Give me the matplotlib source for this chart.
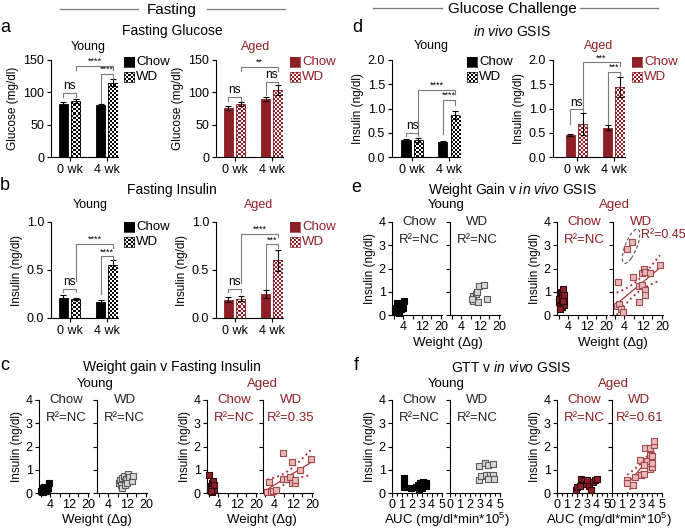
import numpy as np
import matplotlib
matplotlib.use('Agg')
import matplotlib.pyplot as plt
from matplotlib.patches import Ellipse
from matplotlib.colors import to_rgb

plt.rcParams['font.family'] = ['Liberation Sans', 'DejaVu Sans']
plt.rcParams['mathtext.fontset'] = 'custom'
plt.rcParams['mathtext.rm'] = 'Liberation Sans'
plt.rcParams['mathtext.it'] = 'Liberation Sans:italic'
plt.rcParams['axes.linewidth'] = 0.8

# ---------------- data ----------------
groups = ['0 wk', '4 wk']
pos = [0, 1, 3, 4]          # chow 0wk, WD 0wk, chow 4wk, WD 4wk

gluc_young = [82, 86.5, 80.5, 115]
gluc_young_err = [3, 3, 2, 5]
gluc_aged = [75.5, 82, 89.5, 104]
gluc_aged_err = [3, 3, 3.5, 7.5]

fins_young = [0.21, 0.195, 0.167, 0.556]
fins_young_err = [0.03, 0.01, 0.02, 0.045]
fins_aged = [0.19, 0.20, 0.247, 0.60]
fins_aged_err = [0.025, 0.025, 0.04, 0.11]

gsis_young = [0.35, 0.35, 0.30, 0.86]
gsis_young_err = [0.03, 0.05, 0.02, 0.08]
gsis_aged = [0.46, 0.68, 0.60, 1.445]
gsis_aged_err = [0.02, 0.23, 0.05, 0.2]

# brackets: (x1, x2, y_top, y_left_leg, y_right_leg, label)
br_gluc_young = [(0, 1, 98.6, 93, 93, 'ns'), (3, 4, 128, 84, 120, '****'), (1, 4, 141, 134.5, 134.5, '****')]
br_gluc_aged = [(0, 1, 92.4, 87.3, 87.3, 'ns'), (3, 4, 115.6, 96, 112.5, 'ns'), (1, 4, 139.7, 133, 133, '**')]
br_fins_young = [(0, 1, 0.306, 0.271, 0.271, 'ns'), (3, 4, 0.642, 0.25, 0.60, '****'), (1, 4, 0.774, 0.39, 0.73, '****')]
br_fins_aged = [(0, 1, 0.306, 0.271, 0.271, 'ns'), (3, 4, 0.767, 0.30, 0.733, '***'), (1, 4, 0.878, 0.36, 0.84, '****')]
br_gsis_young = [(0, 1, 0.498, 0.43, 0.43, 'ns'), (3, 4, 1.18, 0.48, 1.07, '****'), (1, 4, 1.39, 0.50, 1.305, '****')]
br_gsis_aged = [(0, 1, 0.98, 0.69, 0.93, 'ns'), (3, 4, 1.75, 0.69, 1.68, '***'), (1, 4, 1.95, 1.0, 1.88, '***')]

# weight gain (g) vs fasting insulin (ng/dl)
c_yc_x = [0.2, 0.5, 0.8, 1.0, 1.2, 1.5, 1.8, 2.0, 2.2, 2.5, 3.0, 3.4, 0.4, 1.3]
c_yc_y = [0.10, 0.15, 0.05, 0.20, 0.10, 0.25, 0.15, 0.20, 0.10, 0.15, 0.20, 0.42, 0.05, 0.12]
c_yw_x = [8.5, 9.0, 9.5, 10.0, 10.0, 10.5, 11.0, 11.0, 11.5, 12.0, 12.5, 13.0, 14.0, 14.5]
c_yw_y = [0.45, 0.55, 0.35, 0.65, 0.20, 0.75, 0.50, 0.35, 0.60, 0.45, 0.80, 0.70, 0.50, 0.75]
c_ac_x = [0.0, 0.5, 0.8, 1.2, 1.5, 1.8, 2.0, 2.2, 1.0]
c_ac_y = [0.78, 0.25, 0.30, 0.05, 0.45, 0.50, 0.15, 0.35, 0.10]
c_aw_x = [1.0, 1.6, 2.5, 3.6, 4.9, 7.7, 7.7, 9.6, 10.6, 11.7, 11.6, 12.7, 12.7, 14.8, 19.5]
c_aw_y = [0.05, 0.47, 0.05, 0.07, 0.14, 1.70, 0.61, 0.61, 0.68, 1.35, 0.43, 0.42, 0.57, 0.99, 1.48]

# weight gain (g) vs in vivo GSIS insulin
e_yc_x = [0.3, 0.8, 1.0, 1.3, 1.5, 1.8, 2.0, 2.3, 2.5, 3.0, 3.2, 3.5, 4.2, 4.0, 1.2]
e_yc_y = [0.25, 0.30, 0.15, 0.40, 0.20, 0.35, 0.10, 0.30, 0.45, 0.25, 0.40, 0.30, 0.60, 0.30, 0.50]
e_yw_x = [8.9, 10.3, 10.9, 9.1, 11.3, 11.7, 13.7, 14.8, 8.4]
e_yw_y = [0.83, 0.90, 1.01, 0.62, 0.55, 1.24, 1.28, 0.69, 0.69]
e_ac_x = [0.0, 0.3, 0.5, 0.8, 1.0, 1.2, 1.5, 1.8, 2.0, 2.2, 0.2, 0.6, 1.4, 1.7, 2.3]
e_ac_y = [0.55, 0.80, 0.45, 1.00, 0.65, 0.35, 0.95, 1.10, 0.55, 0.45, 0.70, 0.25, 0.75, 0.60, 0.85]
e_aw_x = [1.2, 0.75, 1.75, 2.6, 3.6, 7.9, 10.4, 10.4, 11.7, 11.5, 12.5, 12.8, 12.8, 12.8, 15.0, 19.2]
e_aw_y = [1.43, 0.40, 0.48, 0.25, 0.14, 1.62, 1.26, 0.58, 1.30, 1.80, 1.98, 1.84, 1.09, 0.87, 1.81, 2.14]
e_out_x = [5.0, 7.4]   # circled outliers, not in the fit
e_out_y = [2.86, 3.12]

# GTT AUC vs in vivo GSIS insulin
f_yc_x = [1.2, 1.2, 1.2, 1.87, 2.47, 2.63, 2.8, 2.97, 3.13, 3.3, 3.47, 2.73, 3.07, 3.4, 2.9]
f_yc_y = [0.66, 0.44, 0.25, 0.23, 0.27, 0.34, 0.41, 0.44, 0.48, 0.41, 0.44, 0.16, 0.20, 0.30, 0.30]
f_yw_x = [2.9, 2.9, 3.1, 3.57, 3.83, 4.33, 3.67, 4.0, 4.33, 3.83, 4.4]
f_yw_y = [1.16, 0.55, 0.71, 1.30, 1.20, 1.26, 0.79, 0.79, 0.79, 0.62, 0.62]
f_ac_x = [1.9, 2.03, 2.3, 2.47, 2.73, 2.9, 3.07, 3.23, 3.4, 3.63, 3.87, 4.07]
f_ac_y = [0.14, 0.27, 0.32, 0.62, 0.55, 0.38, 0.55, 0.32, 0.11, 0.48, 0.55, 0.62]
f_aw_x = [1.53, 1.53, 2.13, 2.3, 2.8, 2.93, 3.2, 3.3, 3.53, 3.8, 3.8, 3.87, 4.03, 4.03, 4.2, 4.27, 4.03, 3.2]
f_aw_y = [0.55, 0.44, 0.34, 0.68, 1.44, 0.78, 0.82, 1.92, 1.37, 1.92, 1.03, 1.64, 1.10, 1.58, 2.05, 2.22, 1.30, 1.20]

# ---------------- style ----------------
W, H = 685, 528
RED = '#8e1f25'
LINE = '#b0373b'
GRAY = '#7a7a7a'

fig = plt.figure(figsize=(6.85, 5.28), dpi=100)


def box(l, t, w, h):
    return fig.add_axes([l / W, 1 - (t + h) / H, w / W, h / H])


def ftext(x, y, s, **kw):
    fig.text(x / W, 1 - y / H, s, ha=kw.pop('ha', 'center'), va=kw.pop('va', 'center'), **kw)


def checker(color, nx, ny):
    c = np.array(to_rgb(color))
    m = (np.add.outer(np.arange(ny), np.arange(nx)) % 2)[..., None]
    return m * c + (1 - m) * np.ones(3)


def bar_panel(l, t, w, h, vals, errs, ymax, yticks, ylabel, color, brackets, xleft):
    ax = box(l, t, w, h)
    bars = ax.bar(pos, vals, width=0.75, color=[color, 'none', color, 'none'],
                  edgecolor=color, linewidth=0.6, zorder=2)
    img = checker(color, int(w / 2), int(h / 2))
    for i in (1, 3):
        im = ax.imshow(img, extent=(xleft, 4.4, 0, ymax), aspect='auto',
                       interpolation='nearest', zorder=1.5)
        im.set_clip_path(bars[i])
    ax.errorbar(pos, vals, yerr=errs, fmt='none', ecolor='black', elinewidth=0.8,
                capsize=2.2, capthick=0.8, zorder=3)
    ax.set_xlim(xleft, 4.4)
    ax.set_ylim(0, ymax)
    ax.set_yticks(yticks)
    ax.set_xticks([0.5, 3.5])
    ax.set_xticklabels(groups)
    ax.spines[['top', 'right']].set_visible(False)
    ax.tick_params(labelsize=9, length=3, width=0.8, pad=2)
    ax.set_ylabel(ylabel, fontsize=8.5, labelpad=3)
    for x1, x2, yt, yl, yr, s in brackets:
        ax.plot([x1, x1, x2, x2], [yl, yt, yt, yr], color=GRAY, lw=0.8, clip_on=False, zorder=4)
        star = '*' in s
        ax.text((x1 + x2) / 2, yt + ymax * (0.0 if star else 0.01), s, ha='center', va='bottom',
                fontsize=6.5 if star else 8.5, clip_on=False)
    return ax


def legend(l, t, color, tcolor):
    for i, (lab, chk) in enumerate([('Chow', False), ('WD', True)]):
        ax = box(l, t + 15 * i, 10, 10)
        if chk:
            ax.imshow(checker(color, 5, 5), extent=(0, 1, 0, 1), aspect='auto', interpolation='nearest')
        else:
            ax.imshow(np.ones((1, 1, 3)) * np.array(to_rgb(color)), extent=(0, 1, 0, 1), aspect='auto')
        ax.set_xticks([])
        ax.set_yticks([])
        for sp in ax.spines.values():
            sp.set_linewidth(0.5)
            sp.set_color(color)
        ftext(l + 12, t + 5 + 15 * i, lab, ha='left', fontsize=9.5, color=tcolor)


def fit_lines(ax, x, y):
    x = np.asarray(x, float)
    y = np.asarray(y, float)
    b, a = np.polyfit(x, y, 1)
    xs = np.linspace(x.min(), x.max(), 60)
    n = len(x)
    s = np.sqrt(((y - (a + b * x)) ** 2).sum() / (n - 2))
    se = s * np.sqrt(1 / n + (xs - x.mean()) ** 2 / ((x - x.mean()) ** 2).sum())
    yf = a + b * xs
    ax.plot(xs, yf, color=LINE, lw=0.9, zorder=1)
    ax.plot(xs, yf + 2.13 * se, ':', color=LINE, lw=1.4, zorder=1)
    ax.plot(xs, yf - 2.13 * se, ':', color=LINE, lw=1.4, zorder=1)


def scat(l, t, x, y, face, edge, kind, first, label, r2, tcolor, fit=False):
    ax = box(l, t, 50, 93)
    ax.scatter(x, y, marker='s', s=20, facecolor=face, edgecolor=edge, linewidths=0.8,
               zorder=3, clip_on=False)
    if fit:
        fit_lines(ax, x, y)
    ax.set_ylim(0, 4)
    ax.set_yticks([0, 1, 2, 3, 4])
    if kind == 'w':
        ax.set_xlim(-0.8, 20.5)
        ax.set_xticks([0, 4, 8, 12, 16, 20])
        ax.set_xticklabels(['', '4', '', '12', '', '20'])
    else:
        ax.set_xlim(0, 5.05)
        ax.set_xticks([0, 1, 2, 3, 4, 5])
        ax.set_xticks(np.arange(0.5, 5, 1), minor=True)
        ax.tick_params(axis='x', which='minor', length=2.5, width=0.8)
    ax.spines[['top', 'right']].set_visible(False)
    ax.tick_params(labelsize=9, length=3, width=0.8, pad=1.5)
    if first:
        ax.set_ylabel('Insulin (ng/dl)', fontsize=8.5, labelpad=2)
    else:
        ax.set_yticklabels([])
    ax.text(0.55, 1.0, label, transform=ax.transAxes, ha='center', va='center', fontsize=9.5, color=tcolor)
    if r2 is not None:
        ax.text(r2[0], r2[1], r2[2], transform=ax.transAxes, ha='center', va='center',
                fontsize=r2[3] if len(r2) > 3 else 9.5, color=tcolor)
    return ax


# ---------------- headers ----------------
ftext(172, 10, 'Fasting', fontsize=11)
ftext(512, 9, 'Glucose Challenge', fontsize=11)
for x0, x1, y in [(60, 138, 9), (207, 285, 9), (373, 442, 8), (580, 658, 8)]:
    fig.add_artist(plt.Line2D([x0 / W, x1 / W], [1 - y / H, 1 - y / H], color=GRAY, lw=0.9))

for s, x, y in [('a', 5, 28), ('b', 5, 186), ('c', 5, 366), ('d', 357, 28), ('e', 356, 188), ('f', 356, 365)]:
    ftext(x, y, s, fontsize=13)

ftext(172, 31, 'Fasting Glucose', fontsize=10)
ftext(172, 190, 'Fasting Insulin', fontsize=10)
ftext(172, 367, 'Weight gain v Fasting Insulin', fontsize=10)
ftext(512, 31, r'$\mathit{in\ vivo}$ GSIS', fontsize=10)
ftext(512, 190, r'Weight Gain v $\mathit{in\ vivo}$ GSIS', fontsize=10)
ftext(511, 367, r'GTT v $\mathit{in\ vivo}$ GSIS', fontsize=10)

# ---------------- bar panels ----------------
for (x, y, s, col) in [(88, 47, 'Young', 'black'), (256, 47, 'Aged', RED),
                       (90, 205, 'Young', 'black'), (259, 205, 'Aged', RED),
                       (431, 46, 'Young', 'black'), (599, 46, 'Aged', RED)]:
    ftext(x, y, s, fontsize=9, color=col)

bar_panel(51, 60, 67, 97, gluc_young, gluc_young_err, 150, [0, 50, 100, 150],
          'Glucose (mg/dl)', 'black', br_gluc_young, -1.0)
bar_panel(216, 60, 67, 97, gluc_aged, gluc_aged_err, 150, [0, 50, 100, 150],
          'Glucose (mg/dl)', RED, br_gluc_aged, -1.0)
bar_panel(51, 222, 67, 96, fins_young, fins_young_err, 1.0, [0, 0.5, 1.0],
          'Insulin (ng/dl)', 'black', br_fins_young, -1.0)
bar_panel(216, 222, 67, 96, fins_aged, fins_aged_err, 1.0, [0, 0.5, 1.0],
          'Insulin (ng/dl)', RED, br_fins_aged, -1.0)
axd = bar_panel(392, 60, 68, 97, gsis_young, gsis_young_err, 2.0, [0, 0.5, 1.0, 1.5, 2.0],
                'Insulin (ng/dl)', 'black', br_gsis_young, -1.15)
axd2 = bar_panel(553, 60, 72, 97, gsis_aged, gsis_aged_err, 2.0, [0, 0.5, 1.0, 1.5, 2.0],
                 'Insulin (ng/dl)', RED, br_gsis_aged, -1.4)
for a in (axd, axd2):
    a.set_yticklabels(['0.0', '0.5', '1.0', '1.5', '2.0'])

legend(124, 57, 'black', 'black')
legend(290, 57, RED, RED)
legend(124, 222, 'black', 'black')
legend(290, 222, RED, RED)
legend(467, 57, 'black', 'black')
legend(632, 57, RED, RED)

# ---------------- scatter panels ----------------
YC = dict(face='black', edge='black')
YW = dict(face='#d6d6d6', edge='#5a5a5a')
AC = dict(face=RED, edge='#2a0a0a')
AW = dict(face='#e6b9b9', edge='#a4494c')

# c
ftext(95, 384, 'Young', fontsize=9.5)
ftext(262, 384, 'Aged', fontsize=9.5, color=RED)
scat(39, 400, c_yc_x, c_yc_y, kind='w', first=True, label='Chow', r2=(0.55, 0.81, 'R²=NC'), tcolor='#222222', **YC)
scat(97, 400, c_yw_x, c_yw_y, kind='w', first=False, label='WD', r2=(0.55, 0.81, 'R²=NC'), tcolor='#222222', **YW)
scat(207, 400, c_ac_x, c_ac_y, kind='w', first=True, label='Chow', r2=(0.55, 0.81, 'R²=NC'), tcolor=RED, **AC)
scat(263, 400, c_aw_x, c_aw_y, kind='w', first=False, label='WD', r2=(0.55, 0.81, 'R²=0.35'), tcolor=RED, fit=True, **AW)
ftext(97, 520, 'Weight (Δg)', fontsize=9.5)
ftext(262, 520, 'Weight (Δg)', fontsize=9.5)

# e
ftext(446, 205, 'Young', fontsize=9.5)
ftext(614, 205, 'Aged', fontsize=9.5, color=RED)
scat(392, 222, e_yc_x, e_yc_y, kind='w', first=True, label='Chow', r2=(0.55, 0.81, 'R²=NC'), tcolor='#222222', **YC)
scat(450, 222, e_yw_x, e_yw_y, kind='w', first=False, label='WD', r2=(0.55, 0.81, 'R²=NC'), tcolor='#222222', **YW)
scat(557, 222, e_ac_x, e_ac_y, kind='w', first=True, label='Chow', r2=(0.55, 0.81, 'R²=NC'), tcolor=RED, **AC)
axe = scat(613, 222, e_aw_x, e_aw_y, kind='w', first=False, label='WD', r2=(1.0, 0.86, 'R²=0.45', 9), tcolor=RED, fit=True, **AW)
axe.scatter(e_out_x, e_out_y, marker='s', s=20, facecolor=AW['face'], edgecolor=AW['edge'], linewidths=0.8, zorder=3)
axe.add_patch(Ellipse((6.9, 2.96), 7.5, 1.05, angle=8, fill=False, ls=(0, (3, 2)), color='#555555', lw=0.8))
ftext(448, 343, 'Weight (Δg)', fontsize=9.5)
ftext(613, 343, 'Weight (Δg)', fontsize=9.5)

# f
ftext(446, 384, 'Young', fontsize=9.5)
ftext(613, 384, 'Aged', fontsize=9.5, color=RED)
scat(392, 400, f_yc_x, f_yc_y, kind='a', first=True, label='Chow', r2=(0.55, 0.81, 'R²=NC'), tcolor='#222222', **YC)
scat(450, 400, f_yw_x, f_yw_y, kind='a', first=False, label='WD', r2=(0.55, 0.81, 'R²=NC'), tcolor='#222222', **YW)
scat(557, 400, f_ac_x, f_ac_y, kind='a', first=True, label='Chow', r2=(0.55, 0.81, 'R²=NC'), tcolor=RED, **AC)
scat(612, 400, f_aw_x, f_aw_y, kind='a', first=False, label='WD', r2=(0.55, 0.81, 'R²=0.61'), tcolor=RED, fit=True, **AW)
ftext(447, 520, r'AUC (mg/dl*min*10$^5$)', fontsize=9.5)
ftext(609, 520, r'AUC (mg/dl*min*10$^5$)', fontsize=9.5)

fig.savefig('out.png', dpi=100)
